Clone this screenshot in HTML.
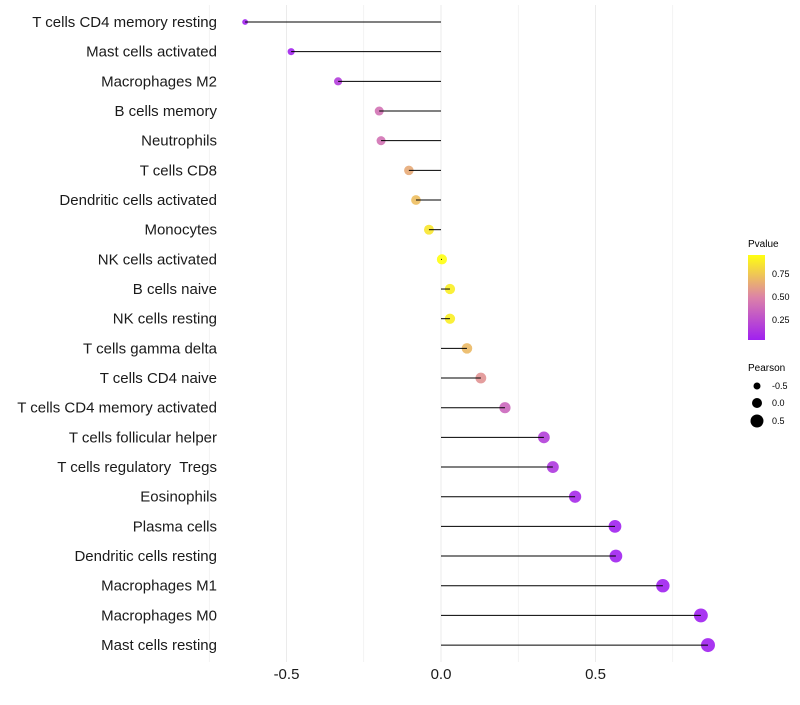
<!DOCTYPE html>
<html><head><meta charset="utf-8"><style>
body{margin:0;background:#fff;font-family:"Liberation Sans",sans-serif;}
text{white-space:pre;}
</style></head><body>
<svg id="c" width="800" height="700" xmlns="http://www.w3.org/2000/svg">
<defs><linearGradient id="pg" x1="0" y1="1" x2="0" y2="0">
<stop offset="0" stop-color="#a020f0"/><stop offset="0.5" stop-color="#dc82a8"/><stop offset="1" stop-color="#ffff10"/>
</linearGradient></defs>
<g id="grid"></g><g id="marks"></g><g id="labels"></g>
<g font-size="10">
<text x="748" y="247">Pvalue</text>
<rect x="748" y="255" width="17" height="85" fill="url(#pg)"/>
<text x="772" y="277" font-size="9">0.75</text>
<text x="772" y="300" font-size="9">0.50</text>
<text x="772" y="323" font-size="9">0.25</text>
<text x="748" y="371">Pearson</text>
<circle cx="757" cy="386" r="3.5" fill="#000"/>
<circle cx="757" cy="403" r="5" fill="#000"/>
<circle cx="757" cy="421" r="6.5" fill="#000"/>
<text x="772" y="389" font-size="9">-0.5</text>
<text x="772" y="406" font-size="9">0.0</text>
<text x="772" y="424" font-size="9">0.5</text>
</g>
</svg>
<script>
const categories=["T cells CD4 memory resting","Mast cells activated","Macrophages M2","B cells memory","Neutrophils","T cells CD8","Dendritic cells activated","Monocytes","NK cells activated","B cells naive","NK cells resting","T cells gamma delta","T cells CD4 naive","T cells CD4 memory activated","T cells follicular helper","T cells regulatory  Tregs","Eosinophils","Plasma cells","Dendritic cells resting","Macrophages M1","Macrophages M0","Mast cells resting"];
const pearson=[-0.634,-0.485,-0.333,-0.20,-0.194,-0.104,-0.081,-0.039,0.003,0.029,0.029,0.084,0.129,0.207,0.333,0.362,0.434,0.563,0.566,0.718,0.841,0.864];
const pvalue=[0.01,0.02,0.15,0.42,0.42,0.66,0.74,0.9,1.0,0.93,0.93,0.72,0.57,0.36,0.16,0.12,0.05,0.01,0.01,0.003,0.001,0.001];
const xTicks=[-0.5,0,0.5];
const xTickLabels=["-0.5","0.0","0.5"];
const NS="http://www.w3.org/2000/svg";
const x=v=>441+v*309;
const y=i=>22+i*29.67;
function mk(t,a,p){const e=document.createElementNS(NS,t);for(const k in a)e.setAttribute(k,a[k]);p.appendChild(e);return e;}
function lerp(a,b,t){return a.map((v,i)=>Math.round(v+(b[i]-v)*t));}
function col(p){const c0=[160,32,240],c1=[220,130,168],c2=[255,255,16];const c=p<0.5?lerp(c0,c1,p/0.5):lerp(c1,c2,(p-0.5)/0.5);return `rgb(${c})`;}
const rad=v=>Math.sqrt(Math.max(4,25.6+27*v));
const g=document.getElementById('grid'),m=document.getElementById('marks'),L=document.getElementById('labels');
[-0.75,-0.5,-0.25,0,0.25,0.5,0.75].forEach(v=>{
 const l=mk('line',{x1:x(v),x2:x(v),y1:5,y2:662,stroke:'#ebebeb','stroke-width':Number.isInteger(v*2)?1:0.6},g);
 
 
});
categories.forEach((c,i)=>{
 const yy=y(i);
 const t=mk('text',{x:217,y:yy+5,'text-anchor':'end','font-size':15,fill:'#1a1a1a'},L);t.textContent=c;
 
 
 const ci=mk('circle',{cx:x(pearson[i]),cy:yy,r:rad(pearson[i]),fill:col(pvalue[i]),'fill-opacity':0.9},m);
 
 
 const ln=mk('line',{x1:x(0),x2:x(pearson[i]),y1:yy,y2:yy,stroke:'#000','stroke-width':1},m);
 
 
});
xTicks.forEach((v,i)=>{
 const t=mk('text',{x:x(v),y:679,'text-anchor':'middle','font-size':15,fill:'#1a1a1a'},L);t.textContent=xTickLabels[i];
 
 
});
</script>
</body></html>
